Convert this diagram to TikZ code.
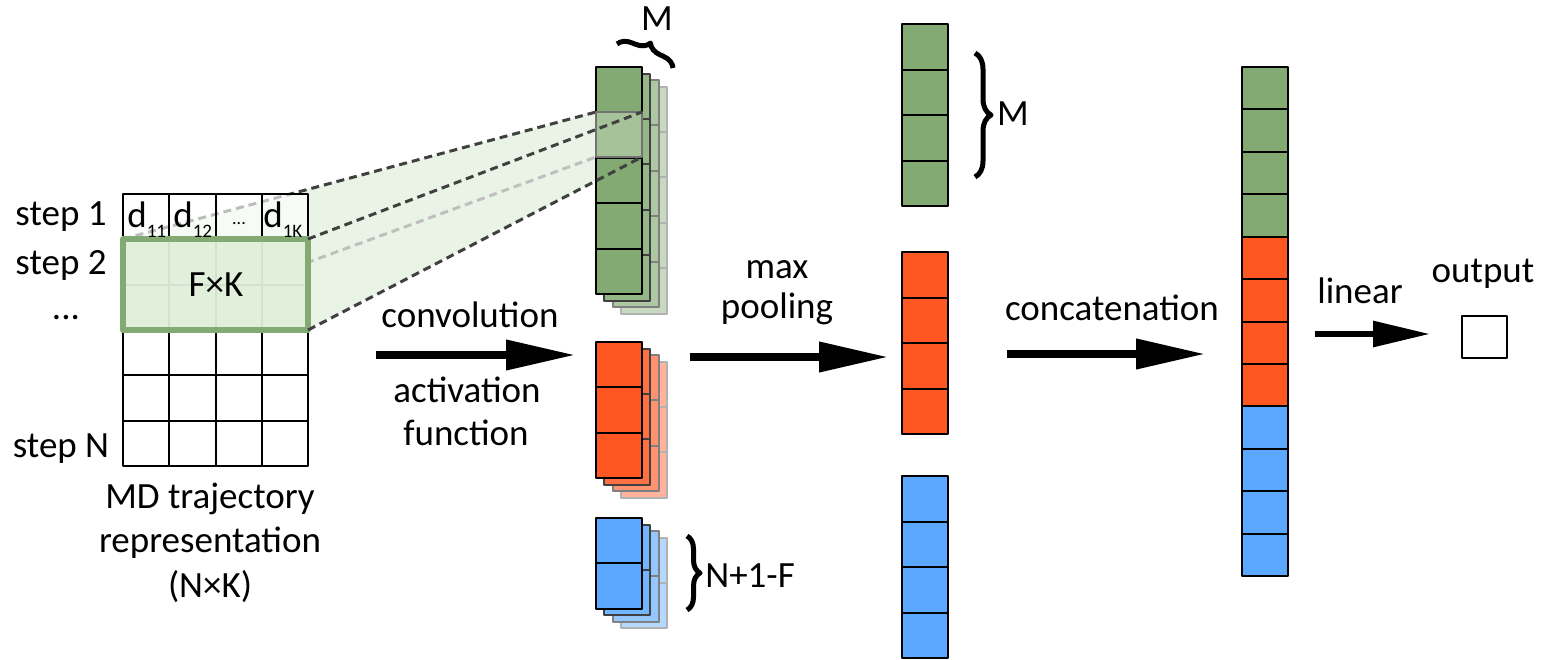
\documentclass[tikz,border=0pt]{standalone}
\usepackage{fontspec}
\setmainfont{Carlito}
\usetikzlibrary{arrows.meta,decorations.pathreplacing,positioning}
\definecolor{xanhla}{HTML}{82AA72}
\definecolor{cam}{HTML}{FF5722}
\definecolor{xanhduong}{HTML}{5AA8FF}
\definecolor{netdut}{HTML}{404040}
\definecolor{nennhat}{HTML}{EAF4E6}
\definecolor{nenloc}{HTML}{E2EFDA}

\begin{document}
\begin{tikzpicture}[x=0.5pt, y=-0.5pt, line join=round, >=stealth, font=\fontsize{18.5}{22}\selectfont]
	\tikzset{every node/.style={inner sep=0pt},
		o/.style={draw=black, line width=1pt},
		netdut/.style={draw=netdut, line width=1.5pt, dash pattern=on 4pt off 2.5pt},
		muiten/.style={line width=3.6pt, -{Triangle[length=34.5pt,width=14.5pt]}},
		ngoac/.style={decorate, decoration={brace, amplitude=#1}, line width=2.5pt},
		chi/.style={anchor=base}}
	\useasboundingbox (0,0) rectangle (1547,659);
	%Vẽ vùng chiếu
	\coordinate (g1) at (123,239); \coordinate (g2) at (308,239);
	\coordinate (g3) at (308,330); \coordinate (g4) at (123,330);
	\coordinate (o1) at (596,112); \coordinate (o2) at (642,112);
	\coordinate (o3) at (642,157); \coordinate (o4) at (596,157);
	\fill[nennhat] (g1)--(o1)--(o2)--(o3)--(g3)--(g4)--cycle;
	\draw[netdut] (g1)--(o1);
	\draw[netdut, draw=gray!50] (g4)--(o4);
	%Vẽ ma trận
	\fill[white, opacity=.65] (123,194) rectangle (308,466);
	\draw[o] (123,194) rectangle (308,466);
	\foreach \x in {1,2,3} \draw[o] (123+46.25*\x,194) -- ++(0,272);
	\foreach \y in {1,...,5} \draw[o] (123,194+45.33*\y) -- ++(185,0);
	%Ô lọc F x K
	\fill[nenloc] (g1) rectangle (g3);
	\foreach \x in {1,2,3} \draw[xanhla!35, line width=1pt] (123+46.25*\x,239) -- ++(0,91);
	\draw[xanhla!35, line width=1pt] (123,284.5) -- ++(185,0);
	\draw[xanhla, line width=2.8pt] (g1) rectangle (g3);
	\node (fk) at (216,285) {F×K};
	\node[anchor=base west] (d11) at (127,227) {d\raisebox{-5pt}{\fontsize{9.5}{9.5}\selectfont 11}};
	\node[anchor=base west] (d12) at (173,227) {d\raisebox{-5pt}{\fontsize{9.5}{9.5}\selectfont 12}};
	\node[chi] (d1x) at (239,224) {\fontsize{9}{9}\selectfont ...};
	\node[anchor=base west] (d1k) at (263,227) {d\raisebox{-5pt}{\fontsize{9.5}{9.5}\selectfont 1K}};
	\node[chi] (buoc1) at (61,225) {step 1};
	\node[chi] (buoc2) at (61,274) {step 2};
	\node[chi] (buocx) at (66,319) {...};
	\node[chi] (buocn) at (61,457) {step N};
	\node[chi] (md1) at (210,508) {MD trajectory};
	\node[chi] (md2) at (210,552) {representation};
	\node[chi] (md3) at (210,597) {(N×K)};
	%Vẽ các bản đồ đặc trưng
	\foreach \mau/\yt/\n in {xanhla/67/5, cam/342/3, xanhduong/518/2}
		\foreach \k/\phan/\vien in {3/45/black!30, 2/65/black!50, 1/85/black!75, 0/100/black}
			\foreach \i in {1,...,\n}
				\draw[line width=1pt, draw=\vien, fill=\mau!\phan!white] ({596+8.3*\k},{\yt+6.5*\k+45.4*(\i-1)}) rectangle ++(46,45.4);
	\draw[line width=1pt, draw=black!55, fill=xanhla!72!white] (o1) rectangle (o3);
	\draw[netdut] (g2)--(o2);
	\draw[netdut] (g3)--(o3);
	\draw[ngoac=7pt] (617,44) -- (673,68);
	\node[chi] (m1) at (657,30) {M};
	\draw[ngoac=6.5pt] (687,536) -- (687,610);
	\node[anchor=base west] (nf) at (705,587) {N+1-F};
	%Vẽ max pooling
	\foreach \mau/\yt in {xanhla/24, cam/252, xanhduong/476}
		\foreach \i in {1,...,4}
			\draw[o, fill=\mau] (902,{\yt+45.5*(\i-1)}) rectangle ++(46,45.5);
	\draw[ngoac=8pt] (975,53) -- (975,177);
	\node[chi] (m2) at (1013,125) {M};
	%Vẽ cột nối
	\foreach \mau [count=\j from 0] in {xanhla, cam, xanhduong}
		\foreach \i in {1,...,4}
			\draw[o, fill=\mau] (1242,{67+42.42*(4*\j+\i-1)}) rectangle ++(46,42.42);
	\node[o, minimum width=22.5pt, minimum height=21pt] (ra) at (1484.5,336.5) {};
	%Vẽ các mũi tên
	\coordinate (t1) at (376,355); \coordinate (t2) at (575,355);
	\coordinate (t3) at (690,357); \coordinate (t4) at (888,357);
	\coordinate (t5) at (1007,354); \coordinate (t6) at (1205,354);
	\coordinate (t7) at (1315,334); \coordinate (t8) at (1430,334);
	\draw[muiten] (t1)--(t2);
	\draw[muiten] (t3)--(t4);
	\draw[muiten] (t5)--(t6);
	\draw[line width=3pt, -{Triangle[length=28.5pt,width=12.5pt]}] (t7)--(t8);
	\node[chi] (tc) at (470,327) {convolution};
	\node[chi] (kh1) at (467,402) {activation};
	\node[chi] (kh2) at (466,445) {function};
	\node[chi] (mp1) at (777,278) {max};
	\node[chi] (mp2) at (777,318) {pooling};
	\node[chi] (nc) at (1112,320) {concatenation};
	\node[chi] (tt) at (1360,303) {linear};
	\node[chi] (kq) at (1483,282) {output};
\end{tikzpicture}
\end{document}
